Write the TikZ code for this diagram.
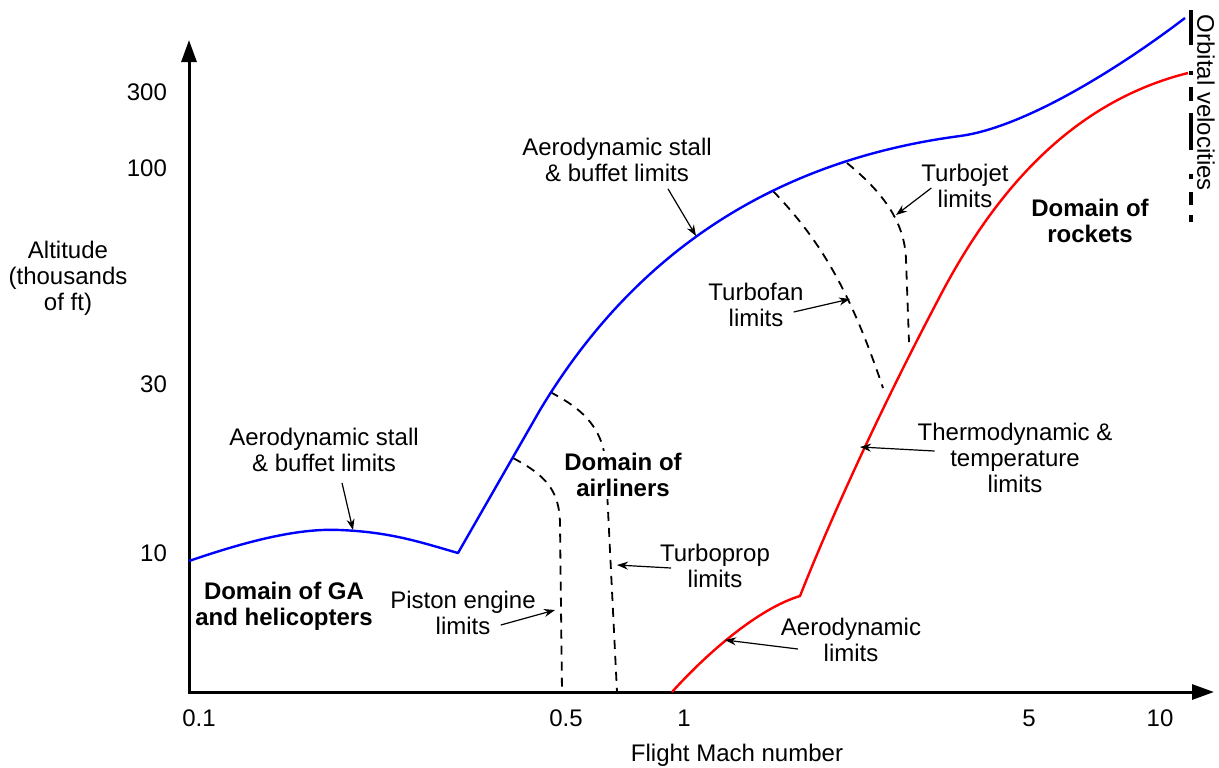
\documentclass[tikz,border=0pt]{standalone}
\usepackage{fontspec}
\setmainfont{Liberation Sans}
\usetikzlibrary{arrows.meta}

\begin{document}
\begin{tikzpicture}[
		x=0.5pt, y=-0.5pt,
		>={Stealth[length=5.5pt, width=4pt]},
		axis/.style={line width=1.5pt, line join=miter, {Triangle[length=11pt, width=7.5pt]}-{Triangle[length=11pt, width=7.5pt]}},
		envelope/.style={line width=1.2pt, line join=round},
		limit/.style={line width=0.9pt, dash pattern=on 4.5pt off 3.5pt},
		note/.style={font=\fontsize{12}{13}\selectfont, align=center},
		domainlabel/.style={font=\fontsize{12}{13}\selectfont\bfseries, align=center},
		pointer/.style={->, line width=0.6pt},
		orbit/.style={line width=1.6pt}
		]
		\useasboundingbox (0,0) rectangle (1219,767);
		
		% Axes
		\coordinate (origin) at (189,692);
		\draw[axis] (189,40) -- (origin) -- (1214,692);
		
		% Axis labels
		\node[note, anchor=east] (y300) at (174,92) {300};
		\node[note, anchor=east] (y100) at (174,168) {100};
		\node[note, anchor=east] (y30) at (174,384) {30};
		\node[note, anchor=east] (y10) at (174,553) {10};
		\node[note] (ylab) at (68,278) {Altitude\\(thousands\\of ft)};
		\node[note] (x01) at (199,718) {0.1};
		\node[note] (x05) at (566,718) {0.5};
		\node[note] (x1) at (684,718) {1};
		\node[note] (x5) at (1029,718) {5};
		\node[note] (x10) at (1160,718) {10};
		\node[note] (xlab) at (737,755) {Flight Mach number};
		
		% Engine limits (dashed)
		\draw[limit] (513,458) .. controls (545,475) and (560,490) .. (560,525) -- (562,692);
		\draw[limit] (550,392) .. controls (585,410) and (605,430) .. (606,470) -- (617,692);
		\draw[limit] (773,191) .. controls (820,240) and (850,290) .. (883,388);
		\draw[limit] (847,163) .. controls (880,190) and (905,220) .. (906,260) -- (909,342);
		
		% Stall and buffet boundary
		\draw[envelope, blue] (189,561) .. controls (250,540) and (300,528) .. (340,530)
			.. controls (390,532) and (420,542) .. (458,553) -- (540,410)
			.. controls (615,285) and (740,165) .. (960,136)
			.. controls (1020,128) and (1110,75) .. (1185,18);
		
		% Rocket boundary
		\draw[envelope, red] (672,692) .. controls (710,650) and (760,608) .. (800,596)
			.. controls (830,520) and (880,410) .. (938,300)
			.. controls (1000,180) and (1080,100) .. (1188,73);
		
		% Orbital velocities
		\foreach \a/\b in {10/45, 71/75, 87/101, 113/150, 174/179, 192/205, 215/222}
			\draw[orbit] (1191,\a) -- (1191,\b);
		\node[note, rotate=-90] (orbital) at (1206,103) {Orbital velocities};
		
		% Domains
		\node[domainlabel] (ga) at (284,606) {Domain of GA\\and helicopters};
		\node[domainlabel, fill=white, inner sep=1pt] (airliners) at (623,475) {Domain of\\airliners};
		\node[domainlabel] (rockets) at (1090,221) {Domain of\\rockets};
		
		% Limit labels
		\node[note] (stallL) at (324,450) {Aerodynamic stall\\\& buffet limits};
		\node[note] (stallT) at (617,160) {Aerodynamic stall\\\& buffet limits};
		\node[note] (tjet) at (965,186) {Turbojet\\limits};
		\node[note] (tfan) at (756,305) {Turbofan\\limits};
		\node[note] (thermo) at (1015,458) {Thermodynamic \&\\temperature\\limits};
		\node[note] (tprop) at (715,566) {Turboprop\\limits};
		\node[note] (piston) at (463,613) {Piston engine\\limits};
		\node[note] (aero) at (851,640) {Aerodynamic\\limits};
		
		% Pointer targets
		\coordinate (pStallL) at (353,530);
		\coordinate (pStallT) at (696,236);
		\coordinate (pJet) at (896,215);
		\coordinate (pFan) at (850,299);
		\coordinate (pThermo) at (860,447);
		\coordinate (pProp) at (617,565);
		\coordinate (pPiston) at (555,610);
		\coordinate (pAero) at (725,640);
		
		% Pointers
		\draw[pointer] ([xshift=9pt, yshift=-2pt]stallL.south) -- (pStallL);
		\draw[pointer] ([xshift=25.5pt]stallT.south) -- (pStallT);
		\draw[pointer] ([xshift=8.5pt, yshift=-1pt]tjet.west) -- (pJet);
		\draw[pointer] ([xshift=-8.5pt, yshift=-3.5pt]tfan.east) -- (pFan);
		\draw[pointer] ([xshift=12pt, yshift=3.5pt]thermo.west) -- (pThermo);
		\draw[pointer] ([xshift=9pt, yshift=-1pt]tprop.west) -- (pProp);
		\draw[pointer] ([xshift=-21pt, yshift=-6pt]piston.east) -- (pPiston);
		\draw[pointer] ([xshift=12pt, yshift=-4.5pt]aero.west) -- (pAero);
		
	\end{tikzpicture}
\end{document}
